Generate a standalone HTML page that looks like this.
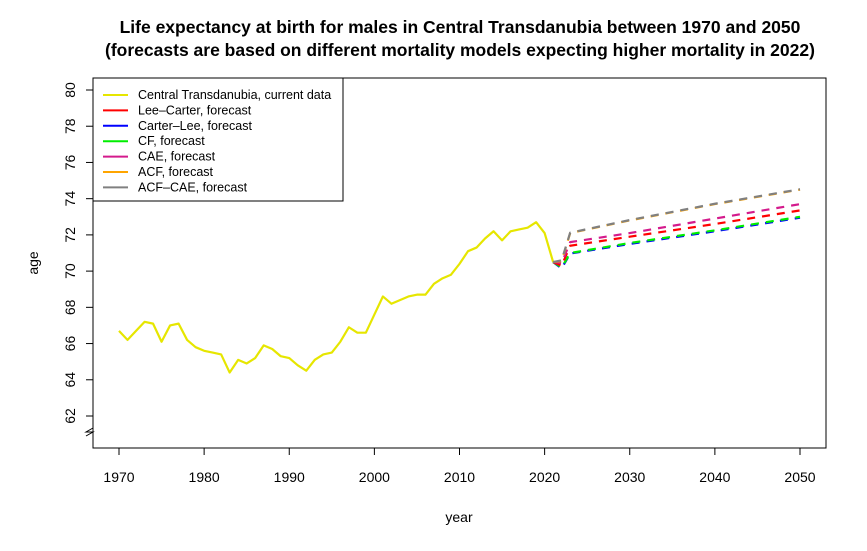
<!DOCTYPE html>
<html><head><meta charset="utf-8"><style>
body{margin:0;background:#fff;}
svg text{font-family:"Liberation Sans",Arial,sans-serif;}
</style></head><body>
<svg id="chart" width="867" height="546" viewBox="0 0 867 546" xmlns="http://www.w3.org/2000/svg">
<rect width="867" height="546" fill="#fff"/>
<text x="460" y="33" text-anchor="middle" font-size="17.5" font-weight="bold">Life expectancy at birth for males in Central Transdanubia between 1970 and 2050</text>
<text x="460" y="56" text-anchor="middle" font-size="17.5" font-weight="bold">(forecasts are based on different mortality models expecting higher mortality in 2022)</text>
<rect x="93" y="78" width="733" height="370" fill="none" stroke="#000" stroke-width="1"/>
<g id="axes"></g>
<g id="series"></g>
<g id="legend"></g>
<text x="459" y="522" text-anchor="middle" font-size="14">year</text>
<text x="0" y="0" transform="translate(38,263) rotate(-90)" text-anchor="middle" font-size="14">age</text>
</svg>
<script>
const years = [1970,1971,1972,1973,1974,1975,1976,1977,1978,1979,1980,1981,1982,1983,1984,1985,1986,1987,1988,1989,1990,1991,1992,1993,1994,1995,1996,1997,1998,1999,2000,2001,2002,2003,2004,2005,2006,2007,2008,2009,2010,2011,2012,2013,2014,2015,2016,2017,2018,2019,2020,2021];
const observed = [66.7,66.2,66.7,67.2,67.1,66.1,67.0,67.1,66.2,65.8,65.6,65.5,65.4,64.4,65.1,64.9,65.2,65.9,65.7,65.3,65.2,64.8,64.5,65.1,65.4,65.5,66.1,66.9,66.6,66.6,67.6,68.6,68.2,68.4,68.6,68.7,68.7,69.3,69.6,69.8,70.4,71.1,71.3,71.8,72.2,71.7,72.2,72.3,72.4,72.7,72.1,70.5];
const fYears = [2021,2022,2023,2030,2040,2050];
const leeCarter = [70.5,70.3,71.4,71.9,72.6,73.35];
const carterLee = [70.5,70.15,70.97,71.5,72.2,72.95];
const cf = [70.5,70.2,71.0,71.55,72.25,73.0];
const cae = [70.5,70.45,71.6,72.1,72.9,73.7];
const acf = [70.5,70.55,72.1,72.8,73.7,74.5];
const acfCae = [70.5,70.6,72.12,72.82,73.72,74.52];
const xTicks = [1970,1980,1990,2000,2010,2020,2030,2040,2050];
const yTicks = [62,64,66,68,70,72,74,76,78,80];
const seriesNames = ["Central Transdanubia, current data","Lee\u2013Carter, forecast","Carter\u2013Lee, forecast","CF, forecast","CAE, forecast","ACF, forecast","ACF\u2013CAE, forecast"];
const seriesColors = ["#e6e600","#ff0000","#0000ff","#00ee00","#d41a8c","#ffa500","#808080"];

const NS="http://www.w3.org/2000/svg";
const X = y => 119 + (y-1970)*(681/80);
const Y = v => 90 + (80-v)*(326/18);
function mk(tag, attrs, parent){const e=document.createElementNS(NS,tag);for(const k in attrs)e.setAttribute(k,attrs[k]);parent.appendChild(e);return e;}
const axes=document.getElementById('axes');
xTicks.forEach(t=>{
  const l=mk('line',{x1:X(t),x2:X(t),y1:448,y2:455,stroke:'#000'},axes);
  
  
  const tx=mk('text',{x:X(t),y:482,'text-anchor':'middle','font-size':14},axes);
  tx.textContent=t;
  
  
});
yTicks.forEach(t=>{
  const l=mk('line',{x1:86,x2:93,y1:Y(t),y2:Y(t),stroke:'#000'},axes);
  
  
  const tx=mk('text',{x:0,y:0,transform:`translate(75,${Y(t)}) rotate(-90)`,'text-anchor':'middle','font-size':14},axes);
  tx.textContent=t;
  
  
});
const brk=mk('polyline',{points:'86,436 93,432 86,432 93,428',fill:'none',stroke:'#000'},axes);



const ser=document.getElementById('series');
function line(xs,vs,color,dash,name){
  const p=mk('polyline',{points:xs.map((x,i)=>X(x)+','+Y(vs[i])).join(' '),fill:'none',stroke:color,'stroke-width':2.2,'stroke-dasharray':dash||'none','stroke-linejoin':'round'},ser);
  
  
}
line(years,observed,seriesColors[0],null,'observed-line');
line(fYears,carterLee,seriesColors[2],'8,7','carter-lee-line');
line(fYears,cf,seriesColors[3],'8,7','cf-line');
line(fYears,leeCarter,seriesColors[1],'8,7','lee-carter-line');
line(fYears,cae,seriesColors[4],'8,7','cae-line');
line(fYears,acf,seriesColors[5],'8,7','acf-line');
line(fYears,acfCae,seriesColors[6],'8,7','acf-cae-line');

const lg=document.getElementById('legend');
const box=mk('rect',{x:93,y:78,width:250,height:123,fill:'#fff',stroke:'#000'},lg);


seriesNames.forEach((n,i)=>{
  const y=95+i*15.4;
  const l=mk('line',{x1:103,x2:128,y1:y,y2:y,stroke:seriesColors[i],'stroke-width':2},lg);
  
  
  const t=mk('text',{x:138,y:y+4,'font-size':12.5},lg);
  t.textContent=n;
  
  
});
</script>
</body></html>
